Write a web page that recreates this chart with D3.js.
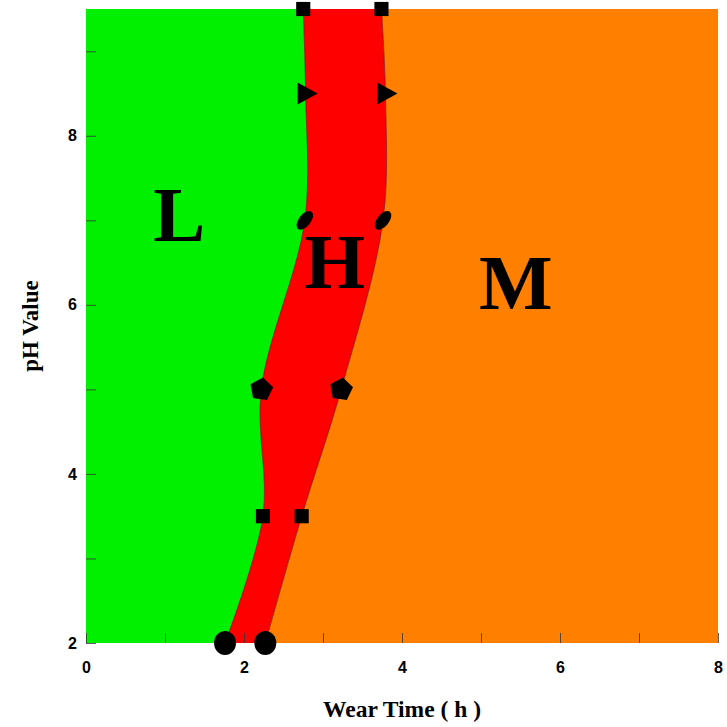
<!DOCTYPE html>
<html>
<head>
<meta charset="utf-8">
<script src="https://cdn.jsdelivr.net/npm/d3@7"></script>
<style>
  html, body { margin: 0; padding: 0; background: #fff; }
  .tick text { font-family: "Liberation Sans", Arial, sans-serif; font-weight: bold; font-size: 16px; }
</style>
</head>
<body>
<div id="chart"></div>
<script>
// pH levels where boundary points were measured
var phLevels = [2, 3.5, 5, 7, 8.5, 9.5];
// wear time at the L/H boundary and the H/M boundary
var lowerBound = [1.76, 2.24, 2.22, 2.77, 2.78, 2.75];
var upperBound = [2.27, 2.73, 3.23, 3.76, 3.79, 3.74];
var markerShapes = ["circle", "square", "pentagon", "ellipse", "triangle", "square"];

var xTicks = [0, 2, 4, 6, 8];
var yTicks = [2, 4, 6, 8];

var regionLabels = [
  {text: "L", x: 1.18, ph: 6.75},
  {text: "H", x: 3.15, ph: 6.2},
  {text: "M", x: 5.44, ph: 5.95}
];

var width = 727, height = 727;
var margin = {top: 9, right: 9, bottom: 84, left: 86};

var svg = d3.select("#chart").append("svg")
    .attr("width", width)
    .attr("height", height);

var x = d3.scaleLinear().domain([0, 8]).range([margin.left, width - margin.right]);
var y = d3.scaleLinear().domain([2, 9.5]).range([height - margin.bottom, margin.top]);

var rows = phLevels.map(function(p, i) {
  return {ph: p, lo: lowerBound[i], hi: upperBound[i], shape: markerShapes[i]};
});

var curve = d3.curveCatmullRom.alpha(0.5);

// Three regions: low (green), high (red), medium (orange)
var areaL = d3.area().curve(curve)
    .y(function(d) { return y(d.ph); })
    .x0(function() { return x(0); })
    .x1(function(d) { return x(d.lo); });
var areaH = d3.area().curve(curve)
    .y(function(d) { return y(d.ph); })
    .x0(function(d) { return x(d.lo); })
    .x1(function(d) { return x(d.hi); });
var areaM = d3.area().curve(curve)
    .y(function(d) { return y(d.ph); })
    .x0(function(d) { return x(d.hi); })
    .x1(function() { return x(8); });

svg.append("path").datum(rows).attr("d", areaM).attr("fill", "#ff8000");
svg.append("path").datum(rows).attr("d", areaL).attr("fill", "#00f000");
svg.append("path").datum(rows).attr("d", areaH).attr("fill", "#ff0000");

// thin boundary lines
var lineLo = d3.line().curve(curve)
    .x(function(d) { return x(d.lo); }).y(function(d) { return y(d.ph); });
var lineHi = d3.line().curve(curve)
    .x(function(d) { return x(d.hi); }).y(function(d) { return y(d.ph); });
svg.append("path").datum(rows).attr("d", lineLo).attr("fill", "none").attr("stroke", "#600").attr("stroke-width", 0.6);
svg.append("path").datum(rows).attr("d", lineHi).attr("fill", "none").attr("stroke", "#600").attr("stroke-width", 0.6);

// Axes with inward ticks
var xAxis = d3.axisBottom(x).tickValues(d3.range(0, 9, 1)).tickSize(-10)
    .tickFormat(function(d) { return xTicks.indexOf(d) >= 0 ? d : ""; });
var yAxis = d3.axisLeft(y).tickValues(d3.range(2, 10, 1)).tickSize(-10)
    .tickFormat(function(d) { return yTicks.indexOf(d) >= 0 ? d : ""; });

var gx = svg.append("g")
    .attr("transform", "translate(0," + y(2) + ")")
    .call(xAxis);
gx.select(".domain").remove();
gx.selectAll(".tick line").attr("stroke", "#333").attr("stroke-width", 0.8);
gx.selectAll(".tick text").attr("fill", "#000").attr("dy", "1.05em").attr("y", 13);

var gy = svg.append("g")
    .attr("transform", "translate(" + x(0) + ",0)")
    .call(yAxis);
gy.select(".domain").remove();
gy.selectAll(".tick line").attr("stroke", "#333").attr("stroke-width", 0.8);
gy.selectAll(".tick text").attr("fill", "#000").attr("x", -9);

// Markers on both boundaries
function pentagonPath(r) {
  var pts = d3.range(5).map(function(k) {
    var a = -Math.PI / 2 + k * 2 * Math.PI / 5;
    return [r * Math.cos(a), r * Math.sin(a)];
  });
  return "M" + pts.join("L") + "Z";
}

function drawMarker(g, shape) {
  if (shape === "circle") {
    g.append("ellipse").attr("rx", 11).attr("ry", 12);
  } else if (shape === "square") {
    g.append("path").attr("d", d3.symbol(d3.symbolSquare, 200)());
  } else if (shape === "pentagon") {
    g.append("path").attr("d", pentagonPath(12)).attr("transform", "rotate(8)");
  } else if (shape === "ellipse") {
    g.append("ellipse").attr("rx", 11).attr("ry", 6).attr("transform", "rotate(-52)");
  } else if (shape === "triangle") {
    g.append("path").attr("d", "M-8,-11L12,0L-8,11Z");
  }
}

var markers = svg.append("g").attr("fill", "#000");
rows.forEach(function(d) {
  [d.lo, d.hi].forEach(function(v) {
    var g = markers.append("g")
        .attr("transform", "translate(" + x(v) + "," + y(d.ph) + ")");
    drawMarker(g, d.shape);
  });
});

// Region letters
svg.append("g").selectAll("text")
    .data(regionLabels).enter().append("text")
    .attr("x", function(d) { return x(d.x); })
    .attr("y", function(d) { return y(d.ph); })
    .attr("text-anchor", "middle")
    .style("font-family", "'Liberation Serif', 'Times New Roman', serif")
    .style("font-weight", "bold")
    .style("font-size", "78px")
    .text(function(d) { return d.text; });

// Axis titles
svg.append("text")
    .attr("x", (x(0) + x(8)) / 2)
    .attr("y", 717)
    .attr("text-anchor", "middle")
    .style("font-family", "'Liberation Serif', 'Times New Roman', serif")
    .style("font-weight", "bold")
    .style("font-size", "23.5px")
    .text("Wear Time ( h )");

svg.append("text")
    .attr("transform", "translate(38," + (y(2) + y(9.5)) / 2 + ") rotate(-90)")
    .attr("text-anchor", "middle")
    .style("font-family", "'Liberation Serif', 'Times New Roman', serif")
    .style("font-weight", "bold")
    .style("font-size", "23px")
    .text("pH Value");
</script>
</body>
</html>
